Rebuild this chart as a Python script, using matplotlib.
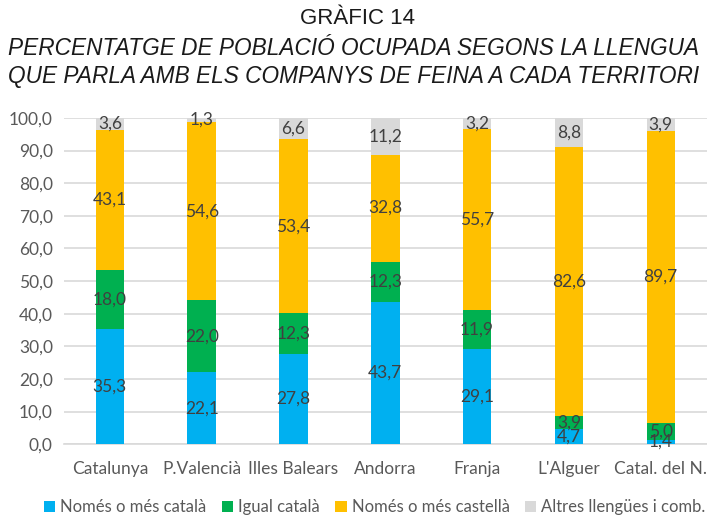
import numpy as np
import matplotlib
matplotlib.use('Agg')
from matplotlib import pyplot as plt
from matplotlib.patches import Patch

territoris = ['Catalunya', 'P.Valencià', 'Illes Balears', 'Andorra', 'Franja', "L'Alguer", 'Catal. del N.']
nomes_catala = [35.3, 22.1, 27.8, 43.7, 29.1, 4.7, 1.4]
igual_catala = [18.0, 22.0, 12.3, 12.3, 11.9, 3.9, 5.0]
nomes_castella = [43.1, 54.6, 53.4, 32.8, 55.7, 82.6, 89.7]
altres = [3.6, 1.3, 6.6, 11.2, 3.2, 8.8, 3.9]

series = [
    ('Només o més català', nomes_catala, '#00B0F0'),
    ('Igual català', igual_catala, '#00B050'),
    ('Només o més castellà', nomes_castella, '#FFC000'),
    ('Altres llengües i comb.', altres, '#D9D9D9'),
]

plt.rcParams['font.family'] = ['Lato', 'DejaVu Sans']

fig = plt.figure(figsize=(7.07, 5.22), dpi=100)
ax = fig.add_axes([0.0905, 0.149, 0.909, 0.625])

x = np.arange(len(territoris))
bottom = np.zeros(len(territoris))
for nom, vals, color in series:
    vals = np.array(vals)
    ax.bar(x, vals, 0.31, bottom=bottom, color=color, zorder=3)
    for xi, b, v in zip(x, bottom, vals):
        ax.text(xi, b + v / 2, f'{v:.1f}'.replace('.', ','), ha='center', va='center',
                fontsize=12.5, color='#404040', zorder=4)
    bottom += vals

ax.set_xlim(-0.5, len(territoris) - 0.5)
ax.set_ylim(0, 100)
ax.set_yticks(np.arange(0, 101, 10))
ax.set_yticklabels([f'{v:.1f}'.replace('.', ',') for v in np.arange(0, 101, 10)])
ax.set_xticks(x)
ax.set_xticklabels(territoris)
ax.tick_params(axis='both', length=0, labelsize=12.5, labelcolor='#595959')
ax.tick_params(axis='x', pad=12)
ax.tick_params(axis='y', pad=8)
ax.grid(axis='y', color='#D9D9D9', linewidth=1.2, zorder=0)
ax.set_axisbelow(True)
for s in ['top', 'right', 'left']:
    ax.spines[s].set_visible(False)
ax.spines['bottom'].set_color('#D9D9D9')
ax.spines['bottom'].set_linewidth(1.2)

# títol
titol = dict(ha='center', va='center', family='Liberation Sans', color='#1a1a1a')
fig.text(0.505, 0.965, 'GRÀFIC 14', fontsize=16, **titol)
fig.text(0.5, 0.907, 'PERCENTATGE DE POBLACIÓ OCUPADA SEGONS LA LLENGUA',
         fontsize=16.3, style='italic', **titol)
fig.text(0.5, 0.854, 'QUE PARLA AMB ELS COMPANYS DE FEINA A CADA TERRITORI',
         fontsize=16.3, style='italic', **titol)

handles = [Patch(facecolor=c, label=n) for n, _, c in series]
fig.legend(handles=handles, loc='center', bbox_to_anchor=(0.53, 0.028), ncol=4, frameon=False,
           fontsize=12, handlelength=0.7, handleheight=0.7, handletextpad=0.3, columnspacing=0.9,
           labelcolor='#595959')

plt.savefig('out.png', dpi=100)
